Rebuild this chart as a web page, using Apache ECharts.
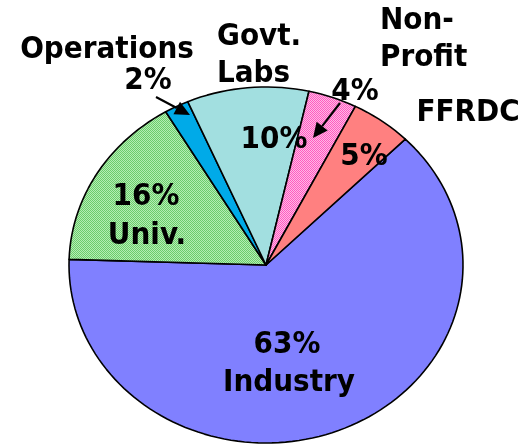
<!DOCTYPE html>
<html>
<head>
<meta charset="utf-8">
<script src="https://cdn.jsdelivr.net/npm/echarts@6/dist/echarts.min.js"></script>
<style>
  html, body { margin: 0; padding: 0; background: #fff; }
  #chart { width: 524px; height: 445px; }
</style>
</head>
<body>
<div id="chart"></div>
<script>
(function () {
  'use strict';

  // data, clockwise from the upper right
  const categories = ['Industry', 'Univ.', 'Operations', 'Govt.\nLabs', 'Non-\nProfit', 'FFRDC'];
  const shares = [63, 16, 2, 10, 4, 5];

  // layout (kept apart from the data)
  const CX = 266, CY = 265, RX = 197, RY = 178, START = 45;
  const FONT = 'bold 31px "DejaVu Sans Condensed", "DejaVu Sans", sans-serif';
  const pctPos = [[287, 345, 'center'], [146, 197, 'center'], [148, 81, 'center'], [274, 140, 'center'], [355, 92, 'center'], [364, 157, 'center']];
  const namePos = [[289, 383, 'center'], [147, 236, 'center'], [107, 50, 'center'], [217, 37, 'left'], [380, 21, 'left'], [468, 113, 'center']];
  const LINE_H = 37;
  const arrows = [[156, 97, 190, 115], [340, 103, 313, 138]];

  function checker(a, b) {
    const c = document.createElement('canvas');
    c.width = 2; c.height = 2;
    const ctx = c.getContext('2d');
    ctx.fillStyle = a; ctx.fillRect(0, 0, 2, 2);
    ctx.fillStyle = b; ctx.fillRect(0, 0, 1, 1); ctx.fillRect(1, 1, 1, 1);
    return { image: c, repeat: 'repeat' };
  }

  const fills = [
    '#8080ff',
    checker('#b4eeb4', '#6ccc6c'),
    '#00aae8',
    '#a2dfe0',
    checker('#ffb8e6', '#ff5cc0'),
    '#ff8080'
  ];

  const total = shares.reduce(function (s, v) { return s + v; }, 0);

  function renderItem(params, api) {
    const i = params.dataIndex;
    let before = 0;
    for (let k = 0; k < i; k++) before += shares[k];
    const a0 = START - 360 * before / total;
    const a1 = a0 - 360 * api.value(0) / total;
    const steps = Math.max(4, Math.ceil(Math.abs(a1 - a0) / 2));
    const pts = [[CX, CY]];
    for (let s = 0; s <= steps; s++) {
      const t = (a0 + (a1 - a0) * s / steps) * Math.PI / 180;
      pts.push([CX + RX * Math.cos(t), CY - RY * Math.sin(t)]);
    }
    return {
      type: 'polygon',
      shape: { points: pts },
      style: { fill: fills[i], stroke: '#000', lineWidth: 1.6, lineJoin: 'round' }
    };
  }

  const texts = [];
  shares.forEach(function (v, i) {
    texts.push({
      type: 'text', x: pctPos[i][0], y: pctPos[i][1], silent: true, z: 100,
      style: { text: v + '%', font: FONT, fill: '#000', align: pctPos[i][2], verticalAlign: 'middle' }
    });
    const lines = categories[i].split('\n');
    texts.push({
      type: 'text', x: namePos[i][0], y: namePos[i][1] + (lines.length - 1) * LINE_H / 2, silent: true, z: 100,
      style: { text: categories[i], font: FONT, fill: '#000', align: namePos[i][2], verticalAlign: 'middle', lineHeight: LINE_H }
    });
  });

  arrows.forEach(function (a) {
    const dx = a[2] - a[0], dy = a[3] - a[1];
    const len = Math.sqrt(dx * dx + dy * dy);
    const ux = dx / len, uy = dy / len;
    const hl = 15, hw = 7;
    const bx = a[2] - ux * hl, by = a[3] - uy * hl;
    texts.push({
      type: 'line', silent: true, z: 100,
      shape: { x1: a[0], y1: a[1], x2: bx, y2: by },
      style: { stroke: '#000', lineWidth: 2.2 }
    });
    texts.push({
      type: 'polygon', silent: true, z: 100,
      shape: { points: [[a[2], a[3]], [bx - uy * hw, by + ux * hw], [bx + uy * hw, by - ux * hw]] },
      style: { fill: '#000' }
    });
  });

  const chart = echarts.init(document.getElementById('chart'), null, { renderer: 'canvas' });
  chart.setOption({
    animation: false,
    backgroundColor: '#fff',
    series: [{
      type: 'custom',
      coordinateSystem: 'none',
      renderItem: renderItem,
      data: shares.map(function (v, i) { return { name: categories[i], value: [v] }; }),
      silent: true,
      z: 1
    }],
    graphic: { elements: texts }
  });
  window.addEventListener('resize', function () { chart.resize(); });
})();
</script>
</body>
</html>
